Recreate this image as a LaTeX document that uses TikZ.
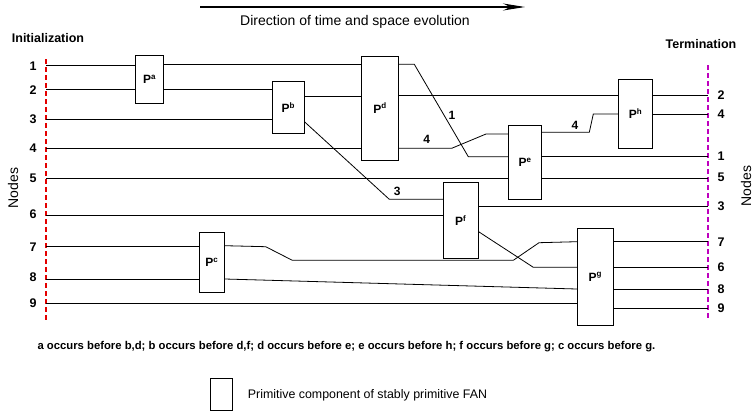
\documentclass[tikz,border=0pt]{standalone}
\usepackage{fontspec}
\setmainfont{Liberation Sans}
\usepackage{xcolor}
\usepackage{tikz}
\usetikzlibrary{arrows.meta, positioning, calc}

\definecolor{initred}{RGB}{228,0,0}
\definecolor{termmag}{RGB}{190,0,190}

\tikzset{
    prim/.style={draw, line width=0.9pt, fill=white, inner sep=0pt, font=\fontsize{12}{14}\selectfont\bfseries},
    wire/.style={line width=0.8pt},
    nodenum/.style={font=\fontsize{12.5}{14}\selectfont\bfseries, inner sep=0pt},
    hop/.style={font=\fontsize{12}{14}\selectfont\bfseries, inner sep=0pt}
}

\begin{document}
\begin{tikzpicture}[x=1pt, y=-1pt]
        \useasboundingbox (0,0) rectangle (754,415);

        % Direction of evolution
        \coordinate (dirfrom) at (200,7);
        \coordinate (dirto) at (525,7);
        \draw[line width=1.2pt, -{Stealth[length=22pt, width=7pt]}] (dirfrom) -- (dirto);
        \node[font=\fontsize{14}{16}\selectfont] (dirtext) at (355,21.5) {Direction of time and space evolution};

        % Initialization and termination
        \node[font=\fontsize{12.5}{14}\selectfont\bfseries] (inittext) at (48,37.7) {Initialization};
        \node[font=\fontsize{12.5}{14}\selectfont\bfseries] (termtext) at (701,44) {Termination};
        \draw[initred, line width=1.3pt, dash pattern=on 5pt off 3pt] (46,59) -- (46,320);
        \draw[termmag, line width=1.3pt, dash pattern=on 5pt off 3pt] (708,65) -- (708,318);
        \node[rotate=90, font=\fontsize{14}{16}\selectfont] (nodesl) at (13,188) {Nodes};
        \node[rotate=90, font=\fontsize{14}{16}\selectfont] (nodesr) at (746,186) {Nodes};

        % Start and end of the nodes
        \coordinate (i1) at (46,65.7);
        \coordinate (i2) at (46,89.7);
        \coordinate (i3) at (46,119.3);
        \coordinate (i4) at (46,148.3);
        \coordinate (i5) at (46,178.2);
        \coordinate (i6) at (46,215);
        \coordinate (i7) at (46,246.7);
        \coordinate (i8) at (46,279);
        \coordinate (i9) at (46,303);
        \coordinate (t2) at (708,95.7);
        \coordinate (t4) at (708,114);
        \coordinate (t1) at (708,156.7);
        \coordinate (t5) at (708,178.2);
        \coordinate (t3) at (708,206);
        \coordinate (t7) at (708,241.7);
        \coordinate (t6) at (708,267.3);
        \coordinate (t8) at (708,289);
        \coordinate (t9) at (708,308.3);

        \node[nodenum] (l1) at (33,66) {1};
        \node[nodenum] (l2) at (33,90) {2};
        \node[nodenum] (l3) at (33,119) {3};
        \node[nodenum] (l4) at (33,148) {4};
        \node[nodenum] (l5) at (33,178) {5};
        \node[nodenum] (l6) at (33,214) {6};
        \node[nodenum] (l7) at (33,247) {7};
        \node[nodenum] (l8) at (33,277) {8};
        \node[nodenum] (l9) at (33,303) {9};
        \node[nodenum] (r2) at (721,95) {2};
        \node[nodenum] (r4) at (721,114) {4};
        \node[nodenum] (r1) at (721,156) {1};
        \node[nodenum] (r5) at (721,177.5) {5};
        \node[nodenum] (r3) at (721,206) {3};
        \node[nodenum] (r7) at (721,242) {7};
        \node[nodenum] (r6) at (721,267) {6};
        \node[nodenum] (r8) at (721,289) {8};
        \node[nodenum] (r9) at (721,308) {9};

        % Primitive components
        \node[prim, minimum width=27.6pt, minimum height=48.4pt] (pa) at (149.5,79.5) {P\textsuperscript{a}};
        \node[prim, minimum width=31.3pt, minimum height=52pt] (pb) at (288.3,107.3) {P\textsuperscript{b}};
        \node[prim, minimum width=25pt, minimum height=60.4pt] (pc) at (211.8,262.5) {P\textsuperscript{c}};
        \node[prim, minimum width=36.6pt, minimum height=104pt] (pd) at (380,108) {P\textsuperscript{d}};
        \node[prim, minimum width=33.4pt, minimum height=73.6pt] (pe) at (525,162.5) {P\textsuperscript{e}};
        \node[prim, minimum width=34.7pt, minimum height=76pt] (pf) at (460.8,220.3) {P\textsuperscript{f}};
        \node[prim, minimum width=35.7pt, minimum height=96.7pt] (pg) at (595.2,276.7) {P\textsuperscript{g}};
        \node[prim, minimum width=34.4pt, minimum height=68.7pt] (ph) at (635.5,113.7) {P\textsuperscript{h}};

        % Node 1
        \draw[wire] (i1) -- (i1 -| pa.west);
        \draw[wire] (pa.east |- 0,64.3) -- (pd.west |- 0,64.3);
        \draw[wire] (pd.east |- 0,64.3) -- (414.3,64.3) -- (468.3,156.7) -- (pe.west |- t1);
        \draw[wire] (pe.east |- t1) -- (t1);
        \node[hop] (h1) at (452,115) {1};

        % Node 2
        \draw[wire] (i2) -- (i2 -| pa.west);
        \draw[wire] (pa.east |- i2) -- (pb.west |- i2);
        \draw[wire] (pb.east |- 0,96.7) -- (pd.west |- 0,96.7);
        \draw[wire] (pd.east |- t2) -- (ph.west |- t2);
        \draw[wire] (ph.east |- t2) -- (t2);

        % Node 3
        \draw[wire] (i3) -- (i3 -| pb.west);
        \draw[wire] (pb.east |- 0,121.7) -- (389.3,199.3) -- (pf.west |- 0,199.3);
        \draw[wire] (pf.east |- t3) -- (t3);
        \node[hop] (h3) at (397.3,191.7) {3};

        % Node 4
        \draw[wire] (i4) -- (i4 -| pd.west);
        \draw[wire] (pd.east |- i4) -- (451.7,148.3) -- (486,134) -- (pe.west |- 0,134);
        \draw[wire] (pe.east |- 0,132.3) -- (589.3,132.3) -- (593.3,114) -- (ph.west |- t4);
        \draw[wire] (ph.east |- t4) -- (t4);
        \node[hop] (h4a) at (426.7,139.3) {4};
        \node[hop] (h4b) at (575,125) {4};

        % Node 5
        \draw[wire] (i5) -- (i5 -| pe.west);
        \draw[wire] (pe.east |- t5) -- (t5);

        % Node 6
        \draw[wire] (i6) -- (i6 -| pf.west);
        \draw[wire] (pf.east |- 0,231.7) -- (533.3,267.3) -- (pg.west |- t6);
        \draw[wire] (pg.east |- t6) -- (t6);

        % Node 7
        \draw[wire] (i7) -- (i7 -| pc.west);
        \draw[wire] (pc.east |- 0,245.7) -- (265.7,246.7) -- (292.3,260.3) -- (513.3,260.3) -- (539,242.7) -- (pg.west |- t7);
        \draw[wire] (pg.east |- t7) -- (t7);

        % Node 8
        \draw[wire] (i8) -- (i8 -| pc.west);
        \draw[wire] (pc.east |- i8) -- (pg.west |- t8);
        \draw[wire] (pg.east |- t8) -- (t8);

        % Node 9
        \draw[wire] (i9) -- (i9 -| pg.west);
        \draw[wire] (pg.east |- t9) -- (t9);

        % Order and legend
        \node[anchor=west, inner sep=0pt, font=\fontsize{11.3}{13}\selectfont\bfseries] (order) at (37.3,346.7) {a occurs before b,d; b occurs before d,f; d occurs before e; e occurs before h; f occurs before g; c occurs before g.};
        \node[prim, minimum width=22pt, minimum height=32pt] (legbox) at (221,394.5) {};
        \node[anchor=west, inner sep=0pt, font=\fontsize{12.4}{14}\selectfont] (legtext) at (247.7,395) {Primitive component of stably primitive FAN};

    \end{tikzpicture}
\end{document}
